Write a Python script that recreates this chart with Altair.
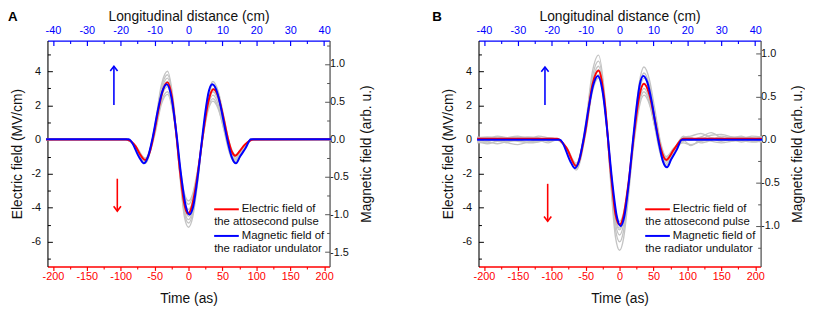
import altair as alt
import pandas as pd

FONT = "Liberation Sans"
RED = "#ff0000"
BLUE = "#0000ff"
GRAY = "#c4c4c4"
W, H = 286, 229

# ---------------- axes / scales ----------------
time_domain = [-208, 208]
dist_domain = [-41.6, 41.6]
E_domain = [-7.45, 5.8]
B_domain_A = [-1.69, 1.31]
B_domain_B = [-1.47, 1.15]

time_ticks = [-200, -150, -100, -50, 0, 50, 100, 150, 200]
time_minor = [-175, -125, -75, -25, 25, 75, 125, 175]
dist_ticks = [-40, -30, -20, -10, 0, 10, 20, 30, 40]
dist_minor = [-35, -25, -15, -5, 5, 15, 25, 35]
E_ticks = [-6, -4, -2, 0, 2, 4]
E_minor = [-7, -5, -3, -1, 1, 3, 5]
B_ticks_A = [-1.5, -1.0, -0.5, 0.0, 0.5, 1.0]
B_minor_A = [-1.25, -0.75, -0.25, 0.25, 0.75, 1.25]
B_ticks_B = [-1.0, -0.5, 0.0, 0.5, 1.0]
B_minor_B = [-1.25, -0.75, -0.25, 0.25, 0.75]

legend_lines = ["Electric field of", "the attosecond pulse",
                "Magnetic field of", "the radiator undulator"]

# ---------------- panel A data ----------------
red_A_t = [-210, -92, -85, -78, -71, -64, -57, -50, -43, -37, -31, -25, -19, -13, -7, -1,
           5, 11, 17, 23, 29, 37, 44, 51, 58, 64, 69, 76, 83, 90, 96, 210]
red_A_E = [0, 0, -0.1, -0.4, -0.9, -1.2, -0.72, 0.53, 2.02, 2.99, 3.35, 2.61, 0.69, -1.69, -3.61, -4.35,
           -3.91, -2.69, -1.0, 0.76, 2.18, 2.95, 2.51, 1.38, 0.08, -0.72, -0.95, -0.65, -0.3, -0.08, 0, 0.02]

blue_t = [-210, -88, -72, -66, -60, -53, -46, -39, -32, -25, -18, -11, -4, 1.5, 7,
          13, 19, 25, 30, 35, 41, 47, 53, 59, 64, 70, 76, 84, 92, 210]
blue_A_B = [0, 0, -0.25, -0.32, -0.24, 0.015, 0.35, 0.625, 0.73, 0.55, 0.09, -0.47, -0.89, -1.0, -0.89,
            -0.54, -0.075, 0.375, 0.64, 0.73, 0.655, 0.454, 0.18, -0.08, -0.245, -0.32, -0.23, -0.12, 0, 0]

gray_A_t = [-210, -92, -78, -64, -50, -40, -31, -22, -13, -6, 0, 6, 13, 22, 29, 36, 44, 52, 60, 69, 80, 94, 210]
gray_A_1 = [0, 0, -0.43, -1.3, 0.71, 3.2, 4.0, 2.12, -1.99, -4.54, -5.15, -4.58, -2.67, 0.58, 2.63, 3.4, 2.8, 1.36, -0.15, -0.9, -0.45, 0, 0]
gray_A_2 = [0, 0, -0.45, -1.35, 0.61, 3.03, 3.8, 2.02, -1.9, -4.32, -4.9, -4.36, -2.55, 0.53, 2.47, 3.2, 2.61, 1.2, -0.27, -1.0, -0.5, 0, 0]
gray_A_3 = [0, 0, -0.46, -1.4, 0.5, 2.85, 3.6, 1.9, -1.84, -4.14, -4.7, -4.18, -2.47, 0.46, 2.3, 3.0, 2.41, 1.0, -0.47, -1.2, -0.6, 0, 0]
gray_A_4 = [0, 0, -0.4, -1.2, 0.43, 2.46, 3.1, 1.62, -1.62, -3.62, -4.1, -3.65, -2.16, 0.39, 2.0, 2.6, 2.05, 0.75, -0.62, -1.3, -0.65, 0, 0]
gray_A_5 = [0, 0, -0.36, -1.1, 0.38, 2.22, 2.8, 1.45, -1.52, -3.36, -3.8, -3.38, -2.0, 0.35, 1.84, 2.4, 1.87, 0.59, -0.74, -1.4, -0.7, 0, 0]
gray_A_6 = [0, 0, -0.41, -1.25, 0.23, 2.07, 2.65, 1.37, -1.44, -3.18, -3.6, -3.21, -1.9, 0.32, 1.72, 2.25, 1.78, 0.66, -0.51, -1.1, -0.55, 0, 0]
gray_A_7 = [0, 0, -0.43, -1.3, 0.49, 2.7, 3.4, 1.78, -1.77, -3.97, -4.5, -4.01, -2.38, 0.39, 2.14, 2.8, 2.27, 0.99, -0.34, -1.0, -0.5, 0, 0]

arrow_A_t = [-110, -105]
arrow_A_from = [2.03, -2.3]
arrow_A_to = [4.3, -4.2]

# ---------------- panel B data ----------------
red_B_t = [-210, -92, -78, -64, -50, -40, -31, -22, -13, -6, 0, 6, 13, 22, 29, 36, 44, 52, 60, 69, 80, 94, 210]
red_B_E = [0.05, 0.05, -0.51, -1.55, 0.58, 3.21, 4.05, 2.19, -1.88, -4.39, -5.0, -4.45, -2.6, 0.54, 2.53, 3.27, 2.64, 1.15, -0.42, -1.2, -0.6, 0.05, 0.05]

blue_B_B = [0, 0, -0.26, -0.33, -0.25, 0.01, 0.35, 0.63, 0.74, 0.56, 0.09, -0.47, -0.89, -1.0, -0.89,
            -0.54, -0.07, 0.38, 0.65, 0.74, 0.665, 0.46, 0.18, -0.08, -0.25, -0.32, -0.23, -0.12, 0, 0]

gray_B_t = [-210, -195, -180, -165, -150, -135, -120, -105, -92,
            -78, -64, -50, -40, -31, -22, -13, -6, 0, 6, 13, 22, 29, 36, 44, 52, 60, 69, 80,
            94, 105, 120, 135, 150, 165, 180, 195, 210]
gray_B_1 = [0.1, 0.15, 0.05, -0.1, -0.05, 0.1, 0.05, -0.1, 0.0,
            -0.5, -1.5, 0.95, 3.98, 4.95, 2.6, -2.55, -5.73, -6.5, -5.78, -3.38, 0.7, 3.28, 4.25, 3.51, 1.76, -0.08, -1.0, -0.5,
            -0.2, -0.3, -0.1, 0.1, 0.0, 0.15, 0.1, 0.05, 0.1]
gray_B_2 = [-0.2, -0.15, -0.25, -0.1, 0.0, -0.2, -0.15, 0.0, 0.0,
            -0.53, -1.6, 0.76, 3.67, 4.6, 2.43, -2.34, -5.29, -6.0, -5.34, -3.13, 0.63, 3.01, 3.9, 3.2, 1.52, -0.23, -1.1, -0.55,
            0.1, 0.2, 0.35, 0.1, -0.1, 0.05, 0.15, 0.1, 0.05]
gray_B_3 = [0.15, 0.05, 0.2, 0.1, 0.15, 0.0, 0.2, 0.1, 0.0,
            -0.56, -1.7, 0.58, 3.4, 4.3, 2.27, -2.18, -4.94, -5.6, -4.98, -2.93, 0.56, 2.77, 3.6, 2.91, 1.27, -0.44, -1.3, -0.65,
            0.05, -0.05, 0.15, 0.4, 0.1, 0.0, -0.15, 0.0, 0.1]
gray_B_4 = [-0.1, -0.25, -0.1, -0.2, -0.3, -0.15, -0.05, -0.2, 0.0,
            -0.59, -1.8, 0.4, 3.13, 4.0, 2.09, -2.09, -4.68, -5.3, -4.72, -2.81, 0.46, 2.53, 3.3, 2.64, 1.07, -0.58, -1.4, -0.7,
            -0.1, 0.1, -0.2, -0.05, 0.2, 0.1, 0.2, -0.1, -0.05]
gray_B_5 = [0.05, 0.0, -0.05, 0.1, 0.2, 0.05, -0.1, 0.1, 0.0,
            -0.51, -1.55, 0.48, 3.0, 3.8, 2.0, -1.96, -4.41, -5.0, -4.46, -2.68, 0.36, 2.28, 3.0, 2.37, 0.86, -0.71, -1.5, -0.75,
            0.2, 0.0, 0.1, -0.1, -0.2, -0.1, 0.0, 0.2, 0.15]
gray_B_6 = [0.0, 0.1, 0.15, 0.05, -0.1, -0.15, -0.05, 0.05, 0.0,
            -0.54, -1.65, 0.35, 2.81, 3.6, 1.88, -1.9, -4.24, -4.8, -4.29, -2.6, 0.29, 2.12, 2.8, 2.18, 0.71, -0.83, -1.6, -0.8,
            -0.05, -0.35, 0.0, 0.25, 0.3, 0.15, -0.05, -0.15, -0.1]
gray_B_7 = [-0.05, -0.1, 0.0, -0.15, 0.1, 0.15, 0.1, -0.05, 0.0,
            -0.46, -1.4, 0.69, 3.28, 4.1, 2.19, -1.99, -4.58, -5.2, -4.68, -2.94, 0.03, 1.9, 2.6, 2.07, 0.79, -0.54, -1.2, -0.6,
            0.15, 0.1, -0.1, 0.0, 0.1, -0.1, 0.05, 0.0, -0.15]

arrow_B_t = [-110, -106]
arrow_B_from = [2.03, -2.6]
arrow_B_to = [4.25, -4.8]

MINUS = "replace(datum.label, '\u2212', '-')"


def inward(n):
    return alt.ExprRef(expr=str(-n))


def tsc():
    return alt.Scale(domain=time_domain, nice=False, zero=False)


def esc():
    return alt.Scale(domain=E_domain, nice=False, zero=False)


def panel(gray_t, grays, red_t, red_E, blue_B, b_domain, b_ticks, b_minor,
          arr_t, arr_from, arr_to, label, label_dx):
    gray_df = pd.concat([pd.DataFrame({"t": gray_t, "E": s, "run": i}) for i, s in enumerate(grays)])
    red_df = pd.DataFrame({"t": red_t, "E": red_E})
    blue_df = pd.DataFrame({"t": blue_t, "B": blue_B})
    bsc = alt.Scale(domain=b_domain, nice=False, zero=False)
    dsc = alt.Scale(domain=dist_domain, nice=False, zero=False)

    gray = alt.Chart(gray_df).mark_line(color=GRAY, strokeWidth=1.4, interpolate="monotone").encode(
        x=alt.X("t:Q", scale=tsc(), axis=alt.Axis(
            orient="bottom", values=time_ticks, title="Time (as)", labelExpr=MINUS,
            domainColor=RED, tickColor=RED, labelColor=RED, domainWidth=1.3, tickWidth=1.2,
            tickSize=4, labelPadding=0, titlePadding=11)),
        y=alt.Y("E:Q", scale=esc(), axis=alt.Axis(
            orient="left", values=E_ticks, title="Electric field (MV/cm)", labelExpr=MINUS,
            domainColor="#000000", tickColor="#000000", domainWidth=1.1,
            tickSize=inward(5), labelPadding=12, titlePadding=7)),
        detail="run:N",
    )
    red = alt.Chart(red_df).mark_line(color=RED, strokeWidth=2, interpolate="monotone").encode(
        x=alt.X("t:Q", scale=tsc(), axis=None),
        y=alt.Y("E:Q", scale=esc(), axis=None),
    )
    blue = alt.Chart(blue_df).mark_line(color=BLUE, strokeWidth=2, interpolate="monotone").encode(
        x=alt.X("t:Q", scale=tsc(), axis=None),
        y=alt.Y("B:Q", scale=bsc, axis=alt.Axis(
            orient="right", values=b_ticks, format=".1f", labelExpr=MINUS,
            title="Magnetic field (arb. u.)", titleAngle=270, titleBaseline="top",
            domainColor="#555555", tickColor="#555555",
            domainWidth=1.3, tickSize=inward(5), labelPadding=5, titlePadding=12)),
    )
    dummy = pd.DataFrame({"d": dist_domain, "t": time_domain, "E": E_domain, "B": b_domain})
    top = alt.Chart(dummy).mark_point(opacity=0).encode(
        x=alt.X("d:Q", scale=dsc, axis=alt.Axis(
            orient="top", values=dist_ticks, title="Longitudinal distance (cm)", labelExpr=MINUS,
            labelColor=BLUE, domainColor=BLUE, tickColor=BLUE, domainWidth=1.3, tickWidth=1.2,
            tickSize=inward(5), labelPadding=10, titlePadding=1)),
        y=alt.Y("E:Q", scale=esc(), axis=None),
    )
    minor1 = alt.Chart(dummy).mark_point(opacity=0).encode(
        x=alt.X("t:Q", scale=tsc(), axis=alt.Axis(
            orient="bottom", values=time_minor, labels=False, domain=False, title=None,
            tickColor=RED, tickSize=2.5, tickWidth=1.1)),
        y=alt.Y("E:Q", scale=esc(), axis=alt.Axis(
            orient="left", values=E_minor, labels=False, domain=False, title=None,
            tickColor="#000000", tickSize=inward(3))),
    )
    minor2 = alt.Chart(dummy).mark_point(opacity=0).encode(
        x=alt.X("d:Q", scale=dsc, axis=alt.Axis(
            orient="top", values=dist_minor, labels=False, domain=False, title=None,
            tickColor=BLUE, tickSize=inward(3), tickWidth=1.1)),
        y=alt.Y("B:Q", scale=bsc, axis=alt.Axis(
            orient="right", values=b_minor, labels=False, domain=False, title=None,
            tickColor="#555555", tickSize=inward(3))),
    )

    arr_df = pd.DataFrame({"t": arr_t, "y0": arr_from, "y1": arr_to,
                           "dir": ["up", "down"]})
    arr_color = alt.Color("dir:N", scale=alt.Scale(domain=["up", "down"], range=[BLUE, RED]), legend=None)
    arr_shape = alt.Shape("dir:N", scale=alt.Scale(domain=["up", "down"],
                                                     range=["M-1,1.3L0,0L1,1.3", "M-1,-1.3L0,0L1,-1.3"]),
                          legend=None)
    shafts = alt.Chart(arr_df).mark_rule(strokeWidth=1.6).encode(
        x=alt.X("t:Q", scale=tsc(), axis=None),
        y=alt.Y("y0:Q", scale=esc(), axis=None),
        y2="y1:Q",
        color=arr_color,
    )
    heads = alt.Chart(arr_df).mark_point(filled=False, strokeWidth=1.6, size=55, opacity=1).encode(
        x=alt.X("t:Q", scale=tsc(), axis=None),
        y=alt.Y("y1:Q", scale=esc(), axis=None),
        color=arr_color,
        shape=arr_shape,
    )

    leg_line_df = pd.DataFrame({"x1": [169, 169], "x2": [194, 194], "y": [171, 198], "dir": ["down", "up"]})
    leg_lines = alt.Chart(leg_line_df).mark_rule(strokeWidth=2).encode(
        x=alt.X("x1:Q", scale=None, axis=None),
        x2="x2:Q",
        y=alt.Y("y:Q", scale=None, axis=None),
        color=arr_color,
    )
    leg_txt_df = pd.DataFrame({"text": legend_lines, "px": [197, 169, 197, 169], "py": [171, 184, 198, 211]})
    leg_txt = alt.Chart(leg_txt_df).mark_text(align="left", baseline="middle", font=FONT,
                                              fontSize=11.5, color="#111111").encode(
        x=alt.X("px:Q", scale=None, axis=None),
        y=alt.Y("py:Q", scale=None, axis=None),
        text="text:N",
    )
    lab_df = pd.DataFrame({"text": [label], "px": [label_dx], "py": [-24]})
    lab = alt.Chart(lab_df).mark_text(align="left", baseline="middle", font=FONT, fontSize=13.5,
                                      fontWeight="bold", color="#000000").encode(
        x=alt.X("px:Q", scale=None, axis=None),
        y=alt.Y("py:Q", scale=None, axis=None),
        text="text:N",
    )

    return alt.layer(gray, red, blue, top, minor1, minor2, shafts, heads, leg_lines, leg_txt, lab).resolve_scale(
        x="independent", y="independent", color="shared", shape="shared"
    ).properties(width=W, height=H)


pA = panel(gray_A_t, [gray_A_1, gray_A_2, gray_A_3, gray_A_4, gray_A_5, gray_A_6, gray_A_7],
           red_A_t, red_A_E, blue_A_B, B_domain_A, B_ticks_A, B_minor_A,
           arrow_A_t, arrow_A_from, arrow_A_to, "A", -40)
pB = panel(gray_B_t, [gray_B_1, gray_B_2, gray_B_3, gray_B_4, gray_B_5, gray_B_6, gray_B_7],
           red_B_t, red_B_E, blue_B_B, B_domain_B, B_ticks_B, B_minor_B,
           arrow_B_t, arrow_B_from, arrow_B_to, "B", -47)

chart = alt.hconcat(pA, pB, spacing=59).properties(
    padding={"left": 0, "top": 0, "right": 0, "bottom": 0}
).configure_axis(
    labelFont=FONT, titleFont=FONT, labelFontSize=11, titleFontSize=14,
    titleFontWeight="normal", titleColor="#111111", labelColor="#111111", grid=False
).configure_view(strokeWidth=0)

chart.save("out.html", embed_options={"renderer": "svg", "actions": False})
